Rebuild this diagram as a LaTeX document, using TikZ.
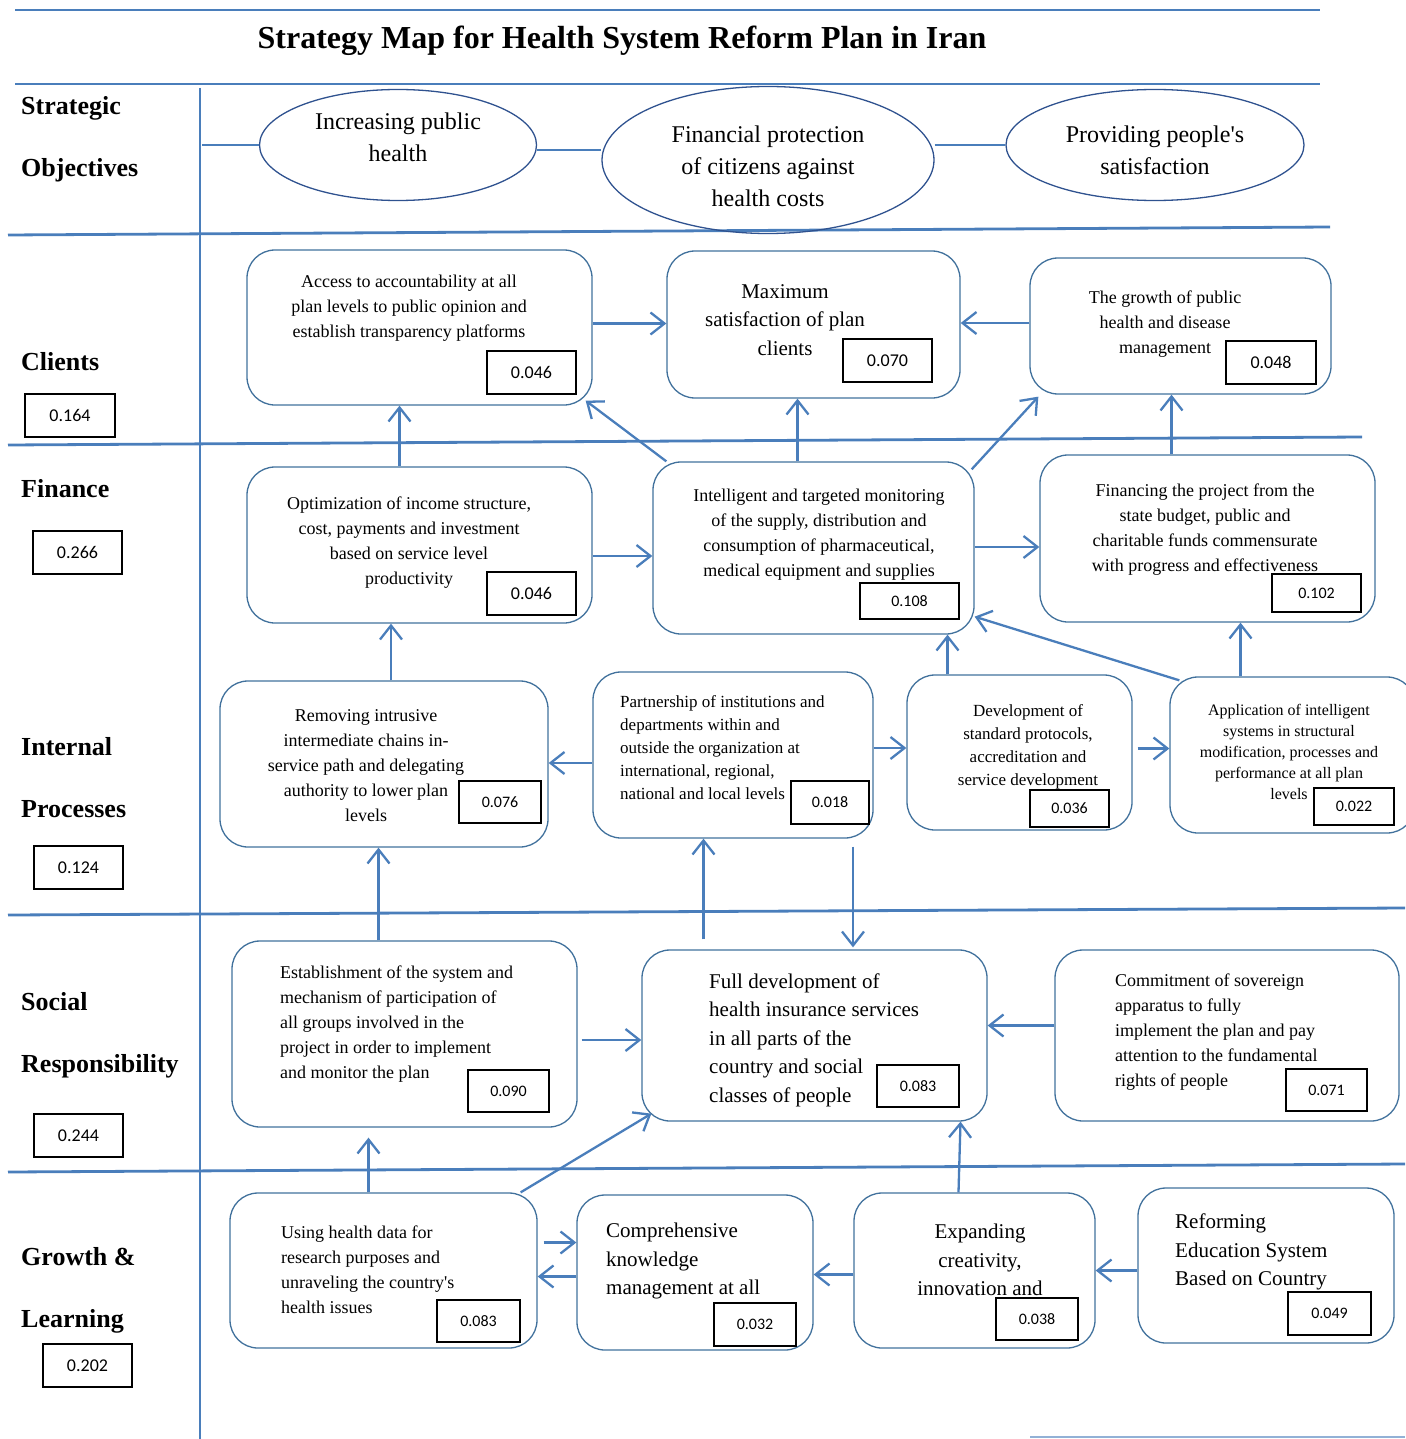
\documentclass[tikz,border=0pt]{standalone}
\usepackage{fontspec}
\setmainfont{Liberation Serif}
\newfontfamily\numfont{Carlito}
\usetikzlibrary{arrows.meta,shapes.geometric}
\definecolor{lineblue}{HTML}{4A7EBB}
\definecolor{edgeblue}{HTML}{41719C}
\definecolor{ovalblue}{HTML}{2F528F}

\begin{document}
\begin{tikzpicture}[x=1pt, y=-1pt,
    sect/.style={lineblue, line width=2.8pt},
    arr/.style={lineblue, line width=2.3pt, -{Straight Barb[length=14pt,width=22pt]}},
    goal/.style={draw=edgeblue, line width=1.3pt, rounded corners=28pt, inner sep=0pt},
    oval/.style={ellipse, draw=ovalblue, line width=1.3pt, inner sep=0pt},
    otxt/.style={inner sep=0pt, align=center, font=\fontsize{24}{32}\selectfont},
    txt/.style={inner sep=0pt, align=center, font=\fontsize{18}{25}\selectfont},
    bigtxt/.style={txt, font=\fontsize{21}{28.5}\selectfont},
    val/.style={draw=black, line width=1.3pt, inner sep=0pt, font=\numfont\fontsize{16}{16}\selectfont},
    bigval/.style={val, font=\numfont\fontsize{18}{18}\selectfont},
    row/.style={anchor=base west, inner sep=0pt, font=\bfseries\fontsize{26}{26}\selectfont}]
    \useasboundingbox (0,0) rectangle (1405,1439);

    % frame lines
    \draw[sect] (15,10) -- (1320,10);
    \draw[sect] (15,84) -- (1320,84);
    \draw[sect] (8,235) -- (1330,227);
    \draw[sect] (8,445) -- (1362,437);
    \draw[sect] (8,915) -- (1405,908);
    \draw[sect] (8,1172) -- (1405,1164);
    \draw[lineblue!60, line width=2.4pt] (1030,1437) -- (1405,1437);
    \draw[lineblue, line width=2.3pt] (200,88) -- (200,1439);

    \node[inner sep=0pt, font=\bfseries\fontsize{32}{32}\selectfont] (title) at (622,41) {Strategy Map for Health System Reform Plan in Iran};

    % perspectives
    \node[row] (lstr) at (21,115) {Strategic};
    \node[row] (lobj) at (21,177) {Objectives};
    \node[row] (lcli) at (21,370) {Clients};
    \node[row] (lfin) at (21,497) {Finance};
    \node[row] (lint) at (21,755) {Internal};
    \node[row] (lpro) at (21,817) {Processes};
    \node[row] (lsoc) at (21,1010) {Social};
    \node[row] (lres) at (21,1072) {Responsibility};
    \node[row] (lgro) at (21,1265) {Growth \&};
    \node[row] (llea) at (21,1327) {Learning};
    \node[bigval, minimum width=90pt, minimum height=43pt] (vcli) at (70,415.5) {0.164};
    \node[bigval, minimum width=89pt, minimum height=43pt] (vfin) at (77.5,552.5) {0.266};
    \node[bigval, minimum width=89pt, minimum height=43pt] (vint) at (78.5,867.5) {0.124};
    \node[bigval, minimum width=89pt, minimum height=43pt] (vsoc) at (78.5,1135.5) {0.244};
    \node[bigval, minimum width=89pt, minimum height=43pt] (vgro) at (87.5,1365.5) {0.202};

    % strategic objectives
    \node[oval, minimum width=277pt, minimum height=111pt] (so1) at (398,145) {};
    \node[otxt] (so1t) at ([yshift=8pt]so1.center) {Increasing public\\health};
    \node[oval, minimum width=332pt, minimum height=147pt] (so2) at (768,160) {};
    \node[otxt] (so2t) at ([yshift=-6pt]so2.center) {Financial protection\\of citizens against\\health costs};
    \node[oval, minimum width=298pt, minimum height=111pt] (so3) at (1155,145) {};
    \node[otxt] (so3t) at ([yshift=-5pt]so3.center) {Providing people\textquotesingle s\\satisfaction};
    \draw[lineblue, line width=2.3pt] (so1.west) -- ++(-57,0);
    \draw[lineblue, line width=2.3pt] ([yshift=-5pt]so1.east) -- ([yshift=10pt]so2.west);
    \draw[lineblue, line width=2.3pt] ([yshift=15pt]so2.east) -- (so3.west);

    % clients
    \node[goal, minimum width=345pt, minimum height=155pt] (acc) at (419.5,327.5) {};
    \node[txt] (acct) at (409,308) {Access to accountability at all\\plan levels to public opinion and\\establish transparency platforms};
    \node[bigval, minimum width=89pt, minimum height=43pt] (accv) at (531.5,372.5) {0.046};
    \node[goal, minimum width=293pt, minimum height=147pt] (sat) at (813.5,324.5) {};
    \node[bigtxt] (satt) at (785,320) {Maximum\\satisfaction of plan\\clients};
    \node[bigval, minimum width=89pt, minimum height=43pt] (satv) at (887.5,360.5) {0.070};
    \node[goal, minimum width=301pt, minimum height=136pt] (grow) at (1180.5,326) {};
    \node[txt] (growt) at (1165,324) {The growth of public\\health and disease\\management};
    \node[bigval, minimum width=90pt, minimum height=43pt] (growv) at (1271,362.5) {0.048};

    % finance
    \node[goal, minimum width=345pt, minimum height=156pt] (opt) at (419.5,545) {};
    \node[txt] (optt) at (409,543) {Optimization of income structure,\\cost, payments and investment\\based on service level\\productivity};
    \node[bigval, minimum width=89pt, minimum height=43pt] (optv) at (531.5,593.5) {0.046};
    \node[goal, minimum width=321pt, minimum height=172pt] (mon) at (813.5,548) {};
    \node[txt] (mont) at (819,535) {Intelligent and targeted monitoring\\of the supply, distribution and\\consumption of pharmaceutical,\\medical equipment and supplies};
    \node[val, minimum width=99pt, minimum height=36pt] (monv) at (909.5,601) {0.108};
    \node[goal, minimum width=335pt, minimum height=167pt] (fin) at (1207.5,538.5) {};
    \node[txt] (fint) at (1205,530) {Financing the project from the\\state budget, public and\\charitable funds commensurate\\with progress and effectiveness};
    \node[val, minimum width=89pt, minimum height=38pt] (finv) at (1316.5,593) {0.102};

    % internal processes
    \node[goal, minimum width=328pt, minimum height=166pt] (rem) at (384,764) {};
    \node[txt] (remt) at (366,766) {Removing intrusive\\intermediate chains in-\\service path and delegating\\authority to lower plan\\levels};
    \node[val, minimum width=82pt, minimum height=42pt] (remv) at (500,802) {0.076};
    \node[goal, minimum width=280pt, minimum height=166pt] (part) at (733,755) {};
    \node[txt, anchor=west, align=left, font=\fontsize{17}{23}\selectfont] (partt) at (620,748) {Partnership of institutions and\\departments within and\\outside the organization at\\international, regional,\\national and local levels};
    \node[val, minimum width=78pt, minimum height=43pt] (partv) at (830,802.5) {0.018};
    \node[goal, minimum width=225pt, minimum height=155pt] (dev) at (1019.5,752.5) {};
    \node[txt, font=\fontsize{17}{23}\selectfont] (devt) at (1028,747) {Development of\\standard protocols,\\accreditation and\\service development};
    \node[val, minimum width=79pt, minimum height=37pt] (devv) at (1069.5,808.5) {0.036};
    \node[goal, minimum width=245pt, minimum height=156pt] (app) at (1292.5,755) {};
    \node[txt, font=\fontsize{16}{21}\selectfont] (appt) at (1289,752) {Application of intelligent\\systems in structural\\modification, processes and\\performance at all plan\\levels};
    \node[val, minimum width=80pt, minimum height=37pt] (appv) at (1354,806.5) {0.022};

    % social responsibility
    \node[goal, minimum width=345pt, minimum height=186pt] (est) at (404.5,1034) {};
    \node[txt, anchor=west, align=left] (estt) at (280,1024) {Establishment of the system and\\mechanism of participation of\\all groups involved in the\\project in order to implement\\and monitor the plan};
    \node[val, minimum width=81pt, minimum height=42pt] (estv) at (508.5,1091) {0.090};
    \node[goal, minimum width=345pt, minimum height=171pt] (ins) at (814.5,1035.5) {};
    \node[bigtxt, anchor=west, align=left] (inst) at (709,1040) {Full development of\\health insurance services\\in all parts of the\\country and social\\classes of people};
    \node[val, minimum width=82pt, minimum height=42pt] (insv) at (918,1086) {0.083};
    \node[goal, minimum width=344pt, minimum height=171pt] (com) at (1227,1035.5) {};
    \node[txt, anchor=west, align=left] (comt) at (1115,1032) {Commitment of sovereign\\apparatus to fully\\implement the plan and pay\\attention to the fundamental\\rights of people};
    \node[val, minimum width=81pt, minimum height=42pt] (comv) at (1326.5,1090) {0.071};

    % growth and learning
    \node[goal, minimum width=307pt, minimum height=155pt] (data) at (383.5,1270.5) {};
    \node[txt, anchor=west, align=left] (datat) at (281,1270) {Using health data for\\research purposes and\\unraveling the country\textquotesingle s\\health issues};
    \node[val, minimum width=83pt, minimum height=42pt] (datav) at (478.5,1321) {0.083};
    \node[goal, minimum width=236pt, minimum height=155pt] (know) at (695,1272.5) {};
    \node[bigtxt, anchor=west, align=left] (knowt) at (606,1261) {Comprehensive\\knowledge\\management at all};
    \node[val, minimum width=82pt, minimum height=43pt] (knowv) at (755,1324.5) {0.032};
    \node[goal, minimum width=241pt, minimum height=155pt] (crea) at (974.5,1270.5) {};
    \node[bigtxt] (creat) at (980,1260) {Expanding\\creativity,\\innovation and};
    \node[val, minimum width=82pt, minimum height=42pt] (creav) at (1037,1319) {0.038};
    \node[goal, minimum width=256pt, minimum height=155pt] (edu) at (1266,1265.5) {};
    \node[bigtxt, anchor=west, align=left] (edut) at (1175,1252) {Reforming\\Education System\\Based on Country};
    \node[val, minimum width=83pt, minimum height=43pt] (eduv) at (1329.5,1313.5) {0.049};

    % links
    \draw[arr] ([yshift=4pt]acc.east) -- ([yshift=4pt]acc.east -| sat.west);
    \draw[arr] ([yshift=3pt]grow.west) -- ([yshift=3pt]grow.west -| sat.east);
    \draw[arr] ([yshift=-11pt]opt.east) -- ([yshift=-11pt]opt.east -| mon.west);
    \draw[arr] ([yshift=1pt]mon.east) -- ([yshift=1pt]mon.east -| fin.west);
    \draw[arr] ([xshift=-20pt]opt.north) -- ([xshift=-20pt]opt.north |- acc.south);
    \draw[arr] ([xshift=-16pt]mon.north) -- ([xshift=-16pt]mon.north |- sat.south);
    \draw[arr] ([xshift=14pt]mon.north west) -- ([xshift=-7pt,yshift=5pt]acc.south east);
    \draw[arr] ([xshift=-3pt,yshift=-8pt]mon.north east) -- ([xshift=9pt,yshift=-2pt]grow.south west);
    \draw[arr] ([xshift=-36pt]fin.north) -- ([xshift=-36pt]fin.north |- grow.south);
    \draw[arr] ([xshift=7pt]rem.north) -- ([xshift=7pt]rem.north |- opt.south);
    \draw[arr] ([yshift=-8pt]part.west) -- ([yshift=-8pt]part.west -| rem.east);
    \draw[arr] ([yshift=7pt]part.east) -- ([yshift=7pt]part.east -| dev.west);
    \draw[arr] ([xshift=5pt,yshift=4pt]dev.east) -- ([yshift=4pt]dev.east -| app.west);
    \draw[arr] ([xshift=-72pt]dev.north) -- ([xshift=-72pt]dev.north |- mon.south);
    \draw[arr] ([xshift=10pt,yshift=-4pt]app.north west) -- ([yshift=18pt]mon.south east);
    \draw[arr] ([xshift=-52pt]app.north) -- ([xshift=-52pt]app.north |- fin.south);
    \draw[arr] ([xshift=4pt,yshift=-6pt]est.east) -- ([yshift=-6pt]est.east -| ins.west);
    \draw[arr] ([yshift=10pt]com.west) -- ([yshift=10pt]com.west -| ins.east);
    \draw[arr] ([xshift=-26pt]est.north) -- ([xshift=-26pt]est.north |- rem.south);
    \draw[arr] ([xshift=-111pt,yshift=10pt]ins.north) -- ([xshift=-111pt]ins.north |- part.south);
    \draw[arr] ([xshift=120pt,yshift=-8pt]part.south) -- ([xshift=120pt,yshift=2pt]part.south |- ins.north);
    \draw[arr] ([xshift=6pt,yshift=28pt]data.east) -- ([yshift=28pt]data.east -| know.west);
    \draw[arr] ([yshift=-4pt]know.west) -- ([yshift=-4pt]know.west -| data.east);
    \draw[arr] ([yshift=-4pt]crea.west) -- ([yshift=-4pt]crea.west -| know.east);
    \draw[arr] ([yshift=-5pt]edu.west) -- ([yshift=-5pt]edu.west -| crea.east);
    \draw[arr] ([xshift=-15pt]data.north) -- ([xshift=-15pt,yshift=-10pt]data.north |- est.south);
    \draw[arr] ([xshift=-17pt]data.north east) -- ([xshift=10pt,yshift=8pt]ins.south west);
    \draw[arr] ([xshift=-16pt]crea.north) -- ([xshift=146pt]ins.south);
\end{tikzpicture}
\end{document}
